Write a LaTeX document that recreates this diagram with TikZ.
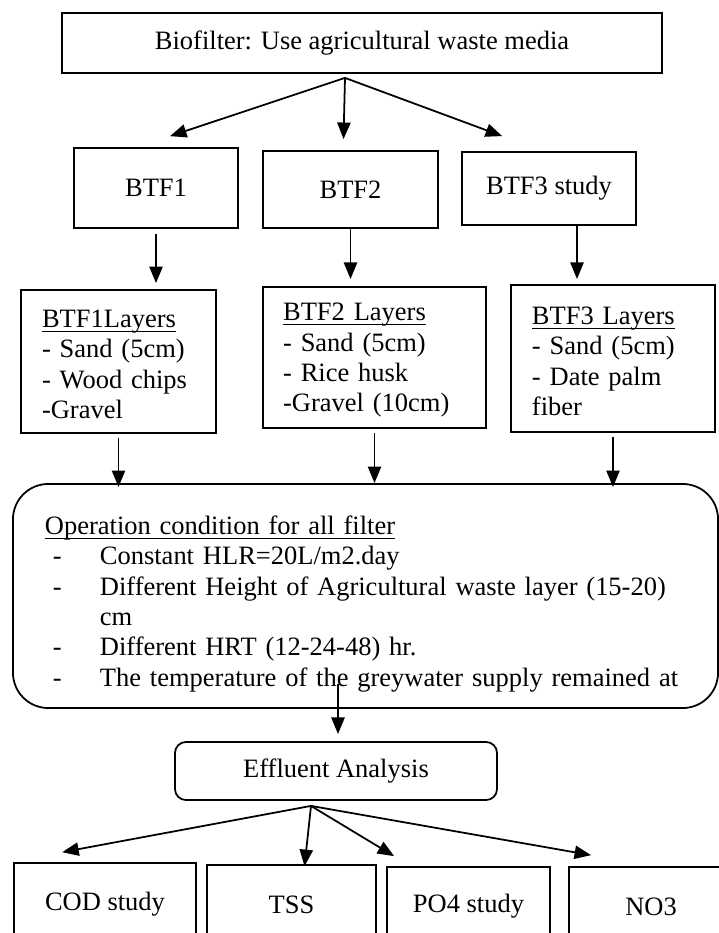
\documentclass[tikz,border=0pt]{standalone}
\usepackage{fontspec}
\setmainfont{Liberation Serif}
\usetikzlibrary{calc,arrows.meta}
\tikzset{
  box/.style={draw, line width=0.8pt, font=\fontsize{12}{13.8}\selectfont, inner sep=2pt},
  listbox/.style={box, align=left},
  arr/.style={line width=0.8pt, -{Triangle[length=7.5pt,width=6pt]}},
}
\newsavebox{\ulbox}
\newcommand{\ulin}[1]{\sbox\ulbox{#1}\rlap{\rule[-2.2pt]{\wd\ulbox}{0.6pt}}\usebox\ulbox}
\newcommand{\opsitem}[1]{\hspace*{3.6pt}\makebox[21.3pt][l]{-}#1}

\begin{document}
\begin{tikzpicture}[x=0.453pt,y=-0.453pt]
\useasboundingbox (0,0) rectangle (719,933);
\clip (0,0) rectangle (719,933);
% media and filters
\node[box, minimum width=271.8pt, minimum height=27.2pt] (media) at (362,43) {Biofilter: Use agricultural waste media};
\node[box, minimum width=74.3pt, minimum height=36.2pt] (btf1) at (156,188) {BTF1};
\node[box, minimum width=79.3pt, minimum height=34.9pt] (btf2) at (350.5,189.5) {BTF2};
\node[box, minimum width=78.8pt, minimum height=33.1pt] (btf3) at (549,188.5) {BTF3 study};

% layers
\node[listbox, inner xsep=9.5pt, text width=69.3pt, minimum height=64.8pt] (lay1) at (118.5,361.5)
  {\rule{0pt}{10.5pt}\ulin{BTF1Layers}\\- Sand (5cm)\\- Wood chips\\-Gravel};
\node[listbox, inner xsep=9.1pt, text width=82.8pt, minimum height=63.9pt] (lay2) at (374.5,357.5)
  {\rule{0pt}{10.5pt}\ulin{BTF2 Layers}\\- Sand (5cm)\\- Rice husk\\-Gravel (10cm)};
\node[listbox, inner xsep=9.5pt, text width=73.4pt, minimum height=66.6pt] (lay3) at (613,358.5)
  {\rule{0pt}{10.5pt}\ulin{BTF3 Layers}\\- Sand (5cm)\\- Date palm\\fiber};

% operation
\node[listbox, rounded corners=16pt, inner xsep=14.5pt, text width=290.4pt, minimum height=101.5pt] (ops) at (365.5,596)
  {\rule{0pt}{15.5pt}\ulin{Operation condition for all filter}\\
   \opsitem{Constant HLR=20L/m2.day}\\
   \opsitem{Different Height of Agricultural waste layer (15-20)}\\
   \hspace*{24.9pt}cm\\
   \opsitem{Different HRT (12-24-48) hr.}\\
   \opsitem{The temperature of the greywater supply remained at}};
\node[box, rounded corners=5pt, minimum width=145.9pt, minimum height=26.3pt] (eff) at (336,771) {Effluent Analysis};

% analysis
\node[box, minimum width=82.4pt, minimum height=37.1pt] (cod) at (105,904) {COD study};
\node[box, minimum width=76.6pt, minimum height=36.2pt] (tss) at (291.5,905) {TSS};
\node[box, minimum width=73.8pt, minimum height=35.3pt] (po4) at (468.5,906) {PO4 study};
\node[box, minimum width=74.3pt, minimum height=36.2pt] (no3) at (651,907) {NO3};

% arrows
\coordinate (split1) at ($(media.south)+(-17,4)$);
\draw[arr] (split1) -- ($(btf1.north)+(14,-11)$);
\draw[arr] (split1) -- ($(btf2.north)+(-7,-11)$);
\draw[arr] (split1) -- ($(btf3.north west)+(41,-15)$);

\draw[arr, shorten <=2.3pt, shorten >=2.7pt] (btf1) -- (btf1 |- lay1.north);
\draw[arr, shorten >=3.2pt] (btf2) -- (btf2 |- lay2.north);
\coordinate (b3) at ($(btf3.south)+(28,0)$);
\draw[arr, shorten >=2.3pt] (b3) -- (b3 |- lay3.north);

\draw[arr, shorten <=1.8pt, shorten >=-1.8pt] (lay1) -- (lay1 |- ops.north);
\draw[arr, shorten <=1.8pt] (lay2) -- (lay2 |- ops.north);
\draw[arr, shorten <=1.8pt, shorten >=-1.8pt] (lay3) -- (lay3 |- ops.north);

\coordinate (opsout) at (338,684);
\draw[arr, shorten >=3.2pt] (opsout) -- (opsout |- eff.north);

\coordinate (split2) at ($(eff.south)+(-25,5)$);
\draw[arr] (split2) -- ($(cod.north west)+(49,-10)$);
\draw[arr] (split2) -- ($(tss.north)+(13,2)$);
\draw[arr] (split2) -- ($(po4.north west)+(8,-10)$);
\draw[arr] (split2) -- ($(no3.north west)+(23,-11)$);
\end{tikzpicture}
\end{document}
